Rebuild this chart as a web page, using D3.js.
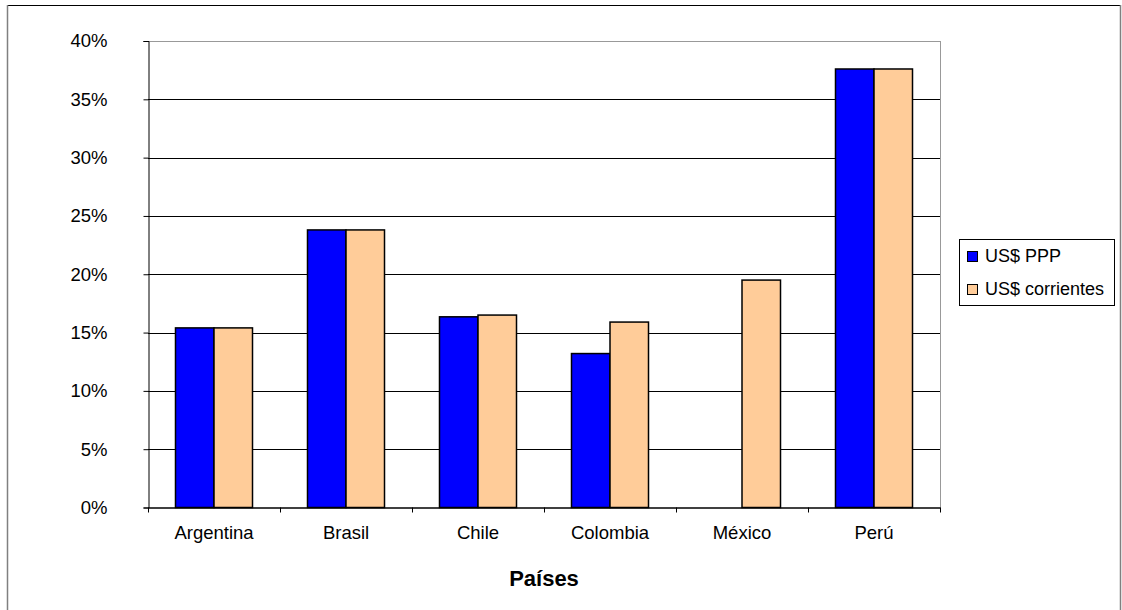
<!DOCTYPE html>
<html>
<head>
<meta charset="utf-8">
<script src="https://cdn.jsdelivr.net/npm/d3@7/dist/d3.min.js"></script>
<style>
    body { margin: 0; background: #fff; }
    text { font-family: "Liberation Sans", Arial, sans-serif; fill: #000; }
</style>
</head>
<body>
<div id="chart"></div>
<script>
const paises = ["Argentina", "Brasil", "Chile", "Colombia", "México", "Perú"];
const seriesNames = ["US$ PPP", "US$ corrientes"];
const seriesColors = ["#0000ff", "#ffcc99"];
const ppp = [15.4, 23.8, 16.35, 13.2, null, 37.6];
const corrientes = [15.4, 23.8, 16.5, 15.9, 19.5, 37.6];
const yTicks = [0, 5, 10, 15, 20, 25, 30, 35, 40];

const width = 1122, height = 610;
const plot = { left: 148, right: 940, top: 41, bottom: 507.5 };

const svg = d3.select("#chart").append("svg")
    .attr("width", width)
    .attr("height", height);

// outer frame
svg.append("line").attr("x1", 7).attr("x2", 1120).attr("y1", 5.5).attr("y2", 5.5).attr("stroke", "#000");
svg.append("line").attr("x1", 7.5).attr("x2", 7.5).attr("y1", 5).attr("y2", 610).attr("stroke", "#808080").attr("stroke-width", 1.5);
svg.append("line").attr("x1", 1120.5).attr("x2", 1120.5).attr("y1", 5).attr("y2", 610).attr("stroke", "#808080").attr("stroke-width", 1.5);

const x = d3.scaleBand()
    .domain(paises)
    .range([plot.left, plot.right]);

const x1 = d3.scaleBand()
    .domain(seriesNames)
    .range([0, x.bandwidth()])
    .paddingOuter(0.714)
    .paddingInner(0);

const y = d3.scaleLinear()
    .domain([0, 40])
    .range([plot.bottom, plot.top]);

// gridlines
svg.append("g")
    .selectAll("line")
    .data(yTicks.slice(1))
    .enter()
    .append("line")
    .attr("x1", plot.left)
    .attr("x2", plot.right)
    .attr("y1", function(d) { return Math.round(y(d)) + 0.5; })
    .attr("y2", function(d) { return Math.round(y(d)) + 0.5; })
    .attr("stroke", function(d) { return d === 40 ? "#999" : "#000"; });

// right border of plot
svg.append("line")
    .attr("x1", plot.right + 0.5).attr("x2", plot.right + 0.5)
    .attr("y1", plot.top).attr("y2", plot.bottom)
    .attr("stroke", "#999");

// bars
const rows = paises.map(function(p, i) {
    return { pais: p, values: [ppp[i], corrientes[i]] };
});

const groups = svg.append("g")
    .selectAll("g")
    .data(rows)
    .enter()
    .append("g")
    .attr("transform", function(d) { return "translate(" + x(d.pais) + ",0)"; });

groups.selectAll("rect")
    .data(function(d) {
        return seriesNames.map(function(s, i) { return { serie: s, value: d.values[i], idx: i }; })
            .filter(function(v) { return v.value != null; });
    })
    .enter()
    .append("rect")
    .attr("x", function(d) { return x1(d.serie); })
    .attr("width", x1.bandwidth())
    .attr("y", function(d) { return y(d.value); })
    .attr("height", function(d) { return plot.bottom - y(d.value); })
    .attr("fill", function(d) { return seriesColors[d.idx]; })
    .attr("stroke", "#000")
    .attr("stroke-width", 1.5);

// y axis
const yAxis = d3.axisLeft(y)
    .tickValues(yTicks)
    .tickSize(5)
    .tickPadding(36)
    .tickFormat(function(d) { return d + "%"; });

const yG = svg.append("g")
    .attr("transform", "translate(" + (plot.left + 0.5) + ",0)")
    .call(yAxis);
yG.selectAll("text").style("font-size", "18.5px");
yG.selectAll("line, path").attr("stroke", "#000");

// x axis
const xAxis = d3.axisBottom(x)
    .tickSize(0)
    .tickPadding(18);

const xG = svg.append("g")
    .attr("transform", "translate(0," + (plot.bottom) + ")")
    .call(xAxis);
xG.select(".domain").attr("stroke", "#000").attr("stroke-width", 1.5);
xG.selectAll("text").style("font-size", "18.5px");

// tick marks between categories
const boundaries = paises.map(function(p) { return x(p); }).concat([plot.right]);
svg.append("g")
    .selectAll("line")
    .data(boundaries)
    .enter()
    .append("line")
    .attr("x1", function(d) { return Math.round(d) + 0.5; })
    .attr("x2", function(d) { return Math.round(d) + 0.5; })
    .attr("y1", plot.bottom)
    .attr("y2", plot.bottom + 5)
    .attr("stroke", "#000");

// axis title
svg.append("text")
    .attr("x", (plot.left + plot.right) / 2)
    .attr("y", 586)
    .attr("text-anchor", "middle")
    .style("font-size", "22px")
    .style("font-weight", "bold")
    .text("Países");

// legend
const legend = svg.append("g");
legend.append("rect")
    .attr("x", 959.5).attr("y", 239.5)
    .attr("width", 155).attr("height", 66)
    .attr("fill", "#fff")
    .attr("stroke", "#000");

const items = legend.selectAll("g")
    .data(seriesNames)
    .enter()
    .append("g")
    .attr("transform", function(d, i) { return "translate(967," + (256 + i * 33) + ")"; });

items.append("rect")
    .attr("x", 0.5).attr("y", -4.5)
    .attr("width", 10).attr("height", 10)
    .attr("fill", function(d, i) { return seriesColors[i]; })
    .attr("stroke", "#000");

items.append("text")
    .attr("x", 18)
    .attr("y", 0)
    .attr("dy", "0.35em")
    .style("font-size", "18px")
    .text(function(d) { return d; });
</script>
</body>
</html>
